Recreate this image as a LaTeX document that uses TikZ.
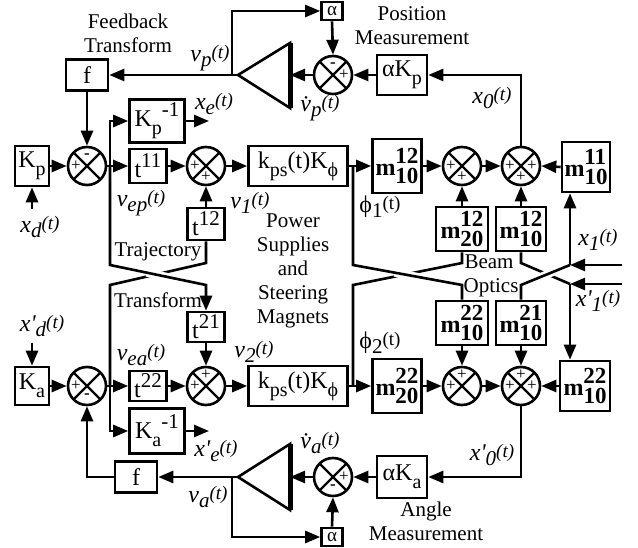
\documentclass[tikz,border=0pt]{standalone}
\usepackage{fontspec}
\setmainfont{Liberation Serif}
\usepackage{tikz}
\usetikzlibrary{arrows.meta,calc}
\newcommand{\lowr}[1]{\raisebox{-8pt}{\fontsize{20}{20}\selectfont #1}}
\newcommand{\uppr}[1]{\raisebox{10pt}{\fontsize{21}{21}\selectfont #1}}
\newcommand{\msig}[2]{\textit{#1\raisebox{-5pt}{\fontsize{21}{21}\selectfont #2}\raisebox{3pt}{\fontsize{19}{19}\selectfont(t)}}}
\newcommand{\mblk}[2]{\textbf{m\raisebox{-8pt}{\fontsize{23}{20}\selectfont\shortstack[l]{#1\\[1pt]#2}}}}
\newcommand{\pr}{\textquotesingle}

\begin{document}
\begin{tikzpicture}[x=1pt, y=-1pt, line width=2.6pt, >={Triangle[length=15pt,width=12pt]}]
  \tikzstyle{blk}=[draw, fill=white, line width=2.6pt, inner sep=2pt, font=\fontsize{24}{26}\selectfont]
  \tikzstyle{abox}=[blk, minimum width=21pt, minimum height=18pt, inner sep=0pt, font=\fontsize{19}{19}\selectfont]
  \tikzstyle{mbox}=[blk, minimum width=50pt, minimum height=44pt, inner sep=1pt]
  \tikzstyle{sumj}=[circle, draw, fill=white, line width=2.6pt, minimum size=38pt, inner sep=0pt,
    path picture={\draw[line width=2.2pt] (path picture bounding box.north west) -- (path picture bounding box.south east)
      (path picture bounding box.north east) -- (path picture bounding box.south west);}]
  \tikzstyle{sgn}=[inner sep=0pt, font=\fontsize{17}{17}\selectfont]
  \tikzstyle{lbl}=[align=center, inner sep=0pt, font=\fontsize{21}{24}\selectfont]
  \tikzstyle{sig}=[inner sep=0pt, font=\fontsize{24}{24}\selectfont]
  \useasboundingbox (0,0) rectangle (638,548);

  % position loop
  \node[lbl] (fbt) at (128,33) {Feedback\\Transform};
  \node[blk, minimum width=42pt, minimum height=31pt] (fp) at (87,75) {f};
  \node[abox] (alp) at (332,11) {α};
  \node[sumj] (sp) at (333,75) {};
  \node[blk, minimum width=50pt, minimum height=40pt] (akp) at (402,75) {αK\lowr{p}};
  \node[lbl] (posm) at (412,26) {Position\\Measurement};
  \node[sig] (vp) at (210,58) {\msig{v}{p}};
  \node[sig] (vdp) at (320,108) {\msig{\.v}{p}};
  \coordinate (apA) at (238,75);
  \coordinate (apB) at (290,75);
  \coordinate (jp) at (232,75);

  \node[blk, minimum width=34pt, minimum height=40pt] (kp) at (32,166) {K\lowr{p}};
  \coordinate (xdin) at (32,209);
  \node[sig] (xd) at (40,227) {\msig{x}{d}};
  \node[sumj] (s1) at (87,166) {};
  \coordinate (bp) at (110,166);
  \node[blk, minimum width=55pt, minimum height=43pt] (kpi) at (157,121) {K\lowr{p}\uppr{-1}};
  \coordinate (xeo) at (209,121);
  \node[sig] (xe) at (214,104) {\msig{x}{e}};
  \node[blk, minimum width=37pt, minimum height=34pt] (t11) at (148,166) {t\uppr{11}};
  \node[sumj] (s2) at (206,166) {};
  \node[blk, minimum width=37pt, minimum height=32pt] (t12) at (206,224) {t\uppr{12}};
  \node[sig] (vep) at (141,203) {\msig{v}{ep}};
  \node[blk, minimum width=99pt, minimum height=40pt] (kps1) at (298,166) {k\lowr{ps}(t)K\lowr{ϕ}};
  \node[sig] (v1) at (250,203) {\msig{v}{1}};
  \coordinate (ph1) at (353,166);
  \node[sig] (phi1) at (380,207) {\msig{\upshape ϕ}{1}};
  \node[mbox, minimum width=49pt, minimum height=54pt] (m1) at (397,166) {\mblk{12}{10}};
  \node[sumj] (s3) at (462,166) {};
  \node[sumj] (s4) at (521,166) {};
  \node[mbox, minimum width=48pt, minimum height=50pt] (m11) at (586,167) {\mblk{11}{10}};
  \node[mbox, minimum width=52pt] (m1220) at (462,229) {\mblk{12}{20}};
  \node[mbox] (m1210) at (521,229) {\mblk{12}{10}};
  \node[sig] (x0) at (492,98) {\msig{x}{0}};
  \coordinate (x1in) at (622,265);
  \coordinate (x1j) at (570,265);
  \node[sig] (x1) at (598,240) {\msig{x}{1}};

  \node[lbl] (traj) at (158,252) {Trajectory};
  \node[lbl] (trf) at (158,300) {Transform};
  \node[lbl] (psm) at (293,271) {Power\\Supplies\\and\\Steering\\Magnets};
  \node[lbl] (beam) at (489,262) {Beam};
  \node[lbl] (opt) at (491,288) {Optics};

  % angle loop
  \node[blk, minimum width=34pt, minimum height=38pt] (ka) at (32,386) {K\lowr{a}};
  \coordinate (xpdin) at (32,343);
  \node[sig] (xpd) at (42,326) {\msig{x\pr}{d}};
  \node[sumj] (s5) at (87,386) {};
  \coordinate (bp2) at (110,386);
  \node[blk, minimum width=55pt, minimum height=45pt] (kai) at (157,431) {K\lowr{a}\uppr{-1}};
  \coordinate (xpeo) at (209,431);
  \node[sig] (xpe) at (216,451) {\msig{x\pr}{e}};
  \node[blk, minimum width=37pt, minimum height=30pt] (t22) at (148,386) {t\uppr{22}};
  \node[sumj] (s6) at (206,386) {};
  \node[blk, minimum width=37pt, minimum height=30pt] (t21) at (206,327) {t\uppr{21}};
  \node[sig] (vea) at (141,355) {\msig{v}{ea}};
  \node[blk, minimum width=99pt, minimum height=40pt] (kps2) at (298,386) {k\lowr{ps}(t)K\lowr{ϕ}};
  \node[sig] (v2) at (254,352) {\msig{v}{2}};
  \coordinate (ph2) at (353,386);
  \node[sig] (phi2) at (380,343) {\msig{\upshape ϕ}{2}};
  \node[mbox, minimum width=49pt, minimum height=54pt] (m2) at (397,386) {\mblk{22}{20}};
  \node[sumj] (s7) at (462,386) {};
  \node[sumj] (s8) at (521,386) {};
  \node[mbox, minimum height=50pt] (m22r) at (585,386) {\mblk{22}{10}};
  \node[mbox, minimum width=52pt] (m2210) at (462,323) {\mblk{22}{10}};
  \node[mbox] (m2110) at (521,323) {\mblk{21}{10}};
  \coordinate (xp1in) at (622,284);
  \coordinate (xp1j) at (570,284);
  \node[sig] (xp1) at (598,301) {\msig{x\pr}{1}};
  \node[sig] (xp0) at (492,455) {\msig{x\pr}{0}};

  \node[blk, minimum width=42pt, minimum height=31pt] (fa) at (136,477) {f};
  \coordinate (aaA) at (238,477);
  \coordinate (aaB) at (290,477);
  \coordinate (ja) at (232,477);
  \node[sumj] (sa) at (333,477) {};
  \node[blk, minimum width=50pt, minimum height=42pt] (aka) at (402,477) {αK\lowr{a}};
  \node[abox] (ala) at (332,537) {α};
  \node[lbl] (angm) at (426,521) {Angle\\Measurement};
  \node[sig] (va) at (208,497) {\msig{v}{a}};
  \node[sig] (vda) at (320,443) {\msig{\.v}{a}};

  % amplifiers
  \draw[fill=white] (apA) -- (290,43) -- (290,108) -- cycle;
  \draw[line width=5pt] (290,43) -- (290,108);
  \draw[fill=white] (aaA) -- (290,444) -- (290,510) -- cycle;
  \draw[line width=5pt] (290,444) -- (290,510);

  % signs
  \node[sgn] (spt) at ($(sp)+(0,-10)$) {\textbf{-}};
  \node[sgn] (spr) at ($(sp)+(11,0)$) {+};
  \node[sgn] (s1l) at ($(s1)+(-11,0)$) {+};
  \node[sgn] (s1t) at ($(s1)+(0,-10)$) {\textbf{-}};
  \node[sgn] (s2l) at ($(s2)+(-11,0)$) {+};
  \node[sgn] (s2b) at ($(s2)+(0,11)$) {+};
  \node[sgn] (s3l) at ($(s3)+(-11,0)$) {+};
  \node[sgn] (s3b) at ($(s3)+(0,11)$) {+};
  \node[sgn] (s4l) at ($(s4)+(-11,0)$) {+};
  \node[sgn] (s4r) at ($(s4)+(11,0)$) {+};
  \node[sgn] (s4b) at ($(s4)+(0,11)$) {+};
  \node[sgn] (s5l) at ($(s5)+(-11,0)$) {+};
  \node[sgn] (s5b) at ($(s5)+(0,10)$) {\textbf{-}};
  \node[sgn] (s6l) at ($(s6)+(-11,0)$) {+};
  \node[sgn] (s6t) at ($(s6)+(0,-11)$) {+};
  \node[sgn] (s7l) at ($(s7)+(-11,0)$) {+};
  \node[sgn] (s7t) at ($(s7)+(0,-11)$) {+};
  \node[sgn] (s8l) at ($(s8)+(-11,0)$) {+};
  \node[sgn] (s8t) at ($(s8)+(0,-11)$) {+};
  \node[sgn] (s8r) at ($(s8)+(11,0)$) {+};
  \node[sgn] (sar) at ($(sa)+(11,0)$) {+};
  \node[sgn] (sab) at ($(sa)+(0,10)$) {\textbf{-}};

  % position connectors
  \draw[->] (s4.north) |- (akp.east);
  \draw[->] (akp.west) -- (sp.east);
  \draw[->] (sp.west) -- (apB);
  \draw[->] (apA) -- (fp.east);
  \draw[->] (jp) |- (alp.west);
  \draw[->] (alp.south) -- (sp.north);
  \draw[->] (fp.south) -- (s1.north);
  \draw[->] (xdin) -- (kp.south);
  \draw[->] (kp.east) -- (s1.west);
  \draw[->] (s1.east) -- (t11.west);
  \draw[->] (bp) |- (kpi.west);
  \draw[->] (kpi.east) -- (xeo);
  \draw[->] (t11.east) -- (s2.west);
  \draw[->] (t12.north) -- (s2.south);
  \draw[->] (s2.east) -- (kps1.west);
  \draw[->] (kps1.east) -- (m1.west);
  \draw[->] (m1.east) -- (s3.west);
  \draw[->] (s3.east) -- (s4.west);
  \draw[->] (m1220.north) -- (s3.south);
  \draw[->] (m1210.north) -- (s4.south);
  \draw[->] (m11.west) -- (s4.east);
  \draw[->] (x1in) -- (x1j);
  \draw[->] (x1j) -- (x1j |- m11.south);

  % trajectory transform crossing
  \draw (t12.south) -- (206,263) -- (110,285) -- (bp2);
  \draw[white, line width=8pt] ($(110,265)!0.38!(206,285)$) -- ($(110,265)!0.62!(206,285)$);
  \draw[->] (bp) -- (110,265) -- (206,285) -- (t21.north);

  % beam optics crossing
  \draw (ph2) -- (353,285) -- (462,263) -- (m1220.south);
  \draw[white, line width=8pt] ($(353,265)!0.38!(462,285)$) -- ($(353,265)!0.62!(462,285)$);
  \draw (ph1) -- (353,265) -- (462,285) -- (m2210.north);
  \draw (xp1j) -- (521,263) -- (m1210.south);
  \draw[white, line width=8pt] ($(570,265)!0.35!(521,285)$) -- ($(570,265)!0.65!(521,285)$);
  \draw (x1j) -- (521,285) -- (m2110.north);
  \draw[->] (xp1in) -- (xp1j);
  \draw[->] (xp1j) -- (xp1j |- m22r.north);

  % angle connectors
  \draw[->] (xpdin) -- (ka.north);
  \draw[->] (ka.east) -- (s5.west);
  \draw[->] (s5.east) -- (t22.west);
  \draw[->] (bp2) |- (kai.west);
  \draw[->] (kai.east) -- (xpeo);
  \draw[->] (t22.east) -- (s6.west);
  \draw[->] (t21.south) -- (s6.north);
  \draw[->] (s6.east) -- (kps2.west);
  \draw[->] (kps2.east) -- (m2.west);
  \draw[->] (m2.east) -- (s7.west);
  \draw[->] (s7.east) -- (s8.west);
  \draw[->] (m2210.south) -- (s7.north);
  \draw[->] (m2110.south) -- (s8.north);
  \draw[->] (m22r.west) -- (s8.east);
  \draw[->] (s8.south) |- (aka.east);
  \draw[->] (aka.west) -- (sa.east);
  \draw[->] (sa.west) -- (aaB);
  \draw[->] (aaA) -- (fa.east);
  \draw[->] (fa.west) -| (s5.south);
  \draw[->] (ja) |- (ala.west);
  \draw[->] (ala.north) -- (sa.south);
\end{tikzpicture}
\end{document}
